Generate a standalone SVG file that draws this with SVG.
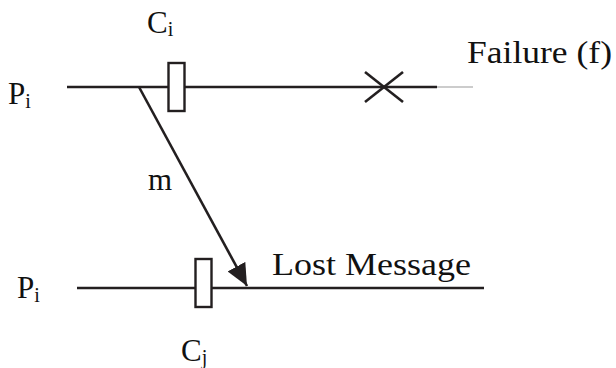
<svg xmlns="http://www.w3.org/2000/svg" width="616" height="368" viewBox="0 0 616 368">
<style>
.ln{stroke:#231f20;stroke-width:2.6;fill:none}
.box{stroke:#231f20;stroke-width:2.4;fill:#fff}
.t{font-family:"Liberation Serif","DejaVu Serif",serif;font-size:31px;fill:#111}
.sub{font-size:20px}
</style>
<defs>
<marker id="ah" markerWidth="24" markerHeight="20" refX="22" refY="10" orient="auto" markerUnits="userSpaceOnUse">
<path d="M0,0 L22,10 L0,20 Z" fill="#231f20"/>
</marker>
</defs>
<g id="process-i">
<line class="ln" x1="67" y1="87" x2="437" y2="87"/>
<line x1="437" y1="87" x2="473" y2="87" stroke="#999" stroke-width="1.2"/>
<text class="t" x="8" y="104" font-size="28">P<tspan class="sub" dy="4">i</tspan></text>
</g>
<g id="checkpoint-ci">
<rect class="box" x="168.5" y="63" width="16" height="48"/>
<text class="t" x="147" y="33">C<tspan class="sub" dy="3">i</tspan></text>
</g>
<g id="failure">
<line class="ln" x1="365" y1="72" x2="403" y2="102"/>
<line class="ln" x1="365" y1="102" x2="403" y2="72"/>
<text class="t" x="467" y="63" textLength="145" lengthAdjust="spacingAndGlyphs">Failure (f)</text>
</g>
<g id="process-j">
<line class="ln" x1="77" y1="288" x2="484" y2="288"/>
<text class="t" x="17" y="298" font-size="28">P<tspan class="sub" dy="4">i</tspan></text>
</g>
<g id="checkpoint-cj">
<rect class="box" x="195.5" y="259" width="16" height="48"/>
<text class="t" x="181" y="361">C<tspan class="sub" dy="3">j</tspan></text>
</g>
<g id="connectors">
<line class="ln" x1="139" y1="87" x2="247" y2="286" marker-end="url(#ah)"/>
<text class="t" x="148" y="190">m</text>
<text class="t" x="272" y="275" textLength="199" lengthAdjust="spacingAndGlyphs">Lost Message</text>
</g>
</svg>
